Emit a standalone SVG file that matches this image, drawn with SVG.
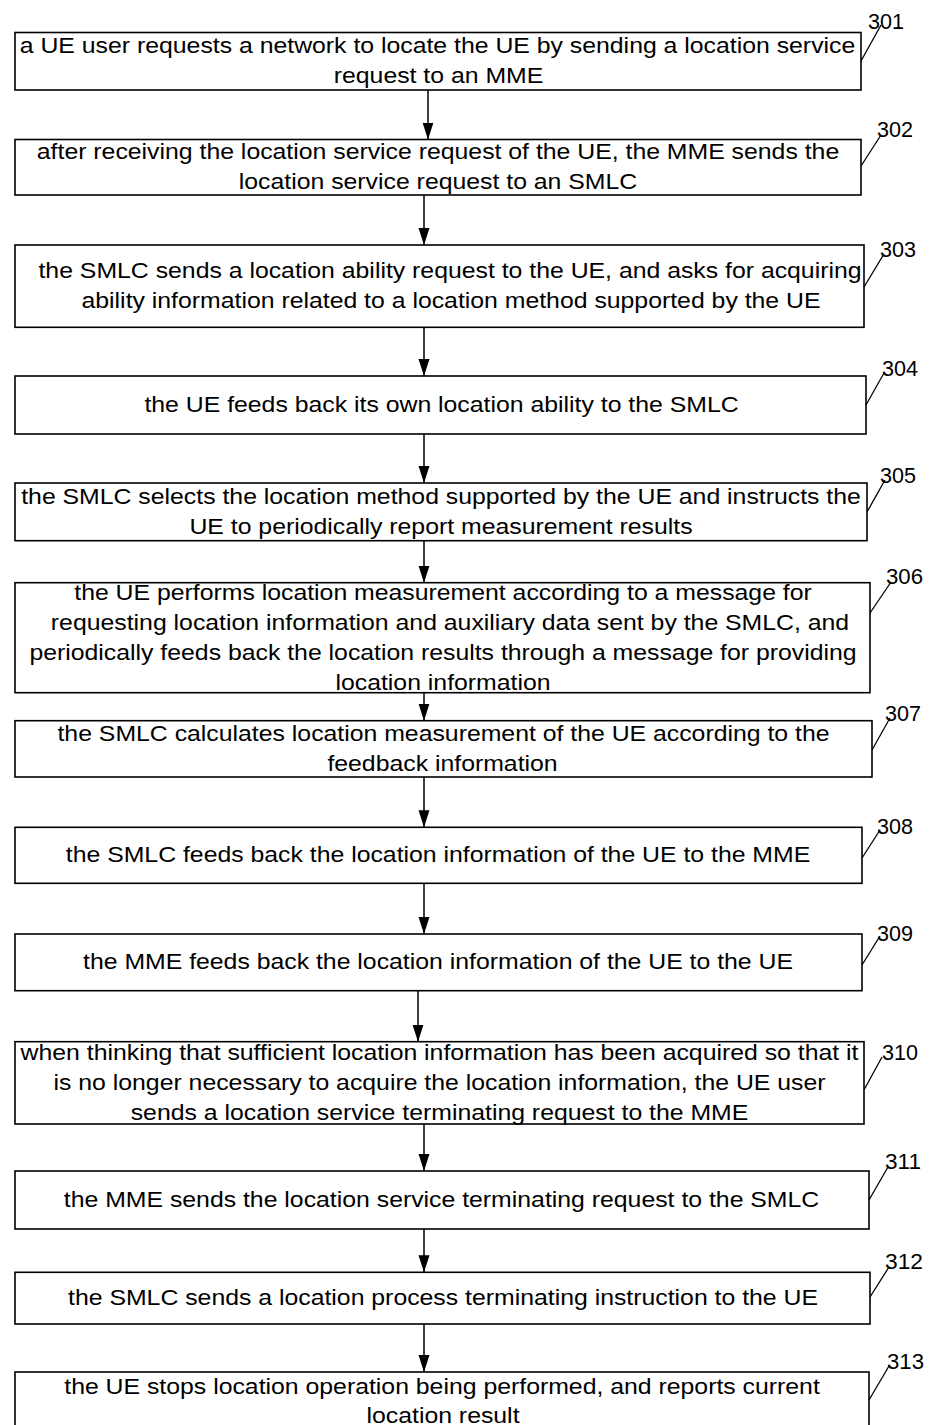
<svg xmlns="http://www.w3.org/2000/svg" width="930" height="1425" viewBox="0 0 930 1425">
<defs>
<style>
.box{fill:#fff;stroke:#000;stroke-width:1.6}
.t{font-family:"Liberation Sans",Arial,sans-serif;font-size:22px;fill:#000;text-anchor:middle}
.lb{font-family:"Liberation Sans",Arial,sans-serif;font-size:22px;fill:#000}
.ld{stroke:#000;stroke-width:1.3;fill:none}
.c{stroke:#000;stroke-width:1.5;fill:none;marker-end:url(#ah)}
</style>
<marker id="ah" markerUnits="userSpaceOnUse" markerWidth="18" markerHeight="12" refX="17" refY="6" orient="auto"><path d="M0,0.5 L17,6 L0,11.5 z" fill="#000"/></marker>
</defs>
<rect width="930" height="1425" fill="#fff"/>
<g id="connectors">
<line class="c" x1="428" y1="90" x2="428" y2="139.5"/>
<line class="c" x1="424" y1="195" x2="424" y2="245"/>
<line class="c" x1="424" y1="327.3" x2="424" y2="376"/>
<line class="c" x1="424" y1="434" x2="424" y2="483"/>
<line class="c" x1="424" y1="540.7" x2="424" y2="582.7"/>
<line class="c" x1="424" y1="692.7" x2="424" y2="720.7"/>
<line class="c" x1="424" y1="777" x2="424" y2="827.3"/>
<line class="c" x1="424" y1="883.3" x2="424" y2="934"/>
<line class="c" x1="418" y1="990.7" x2="418" y2="1041.7"/>
<line class="c" x1="424" y1="1124" x2="424" y2="1171"/>
<line class="c" x1="424" y1="1229" x2="424" y2="1272.3"/>
<line class="c" x1="424" y1="1324" x2="424" y2="1372"/>
</g>
<g id="n301">
<rect class="box" x="15" y="32.5" width="846" height="57.5"/>
<text class="t" transform="translate(437.5 53.3) scale(1.128 1)">a UE user requests a network to locate the UE by sending a location service</text>
<text class="t" transform="translate(438.5 83.3) scale(1.128 1)">request to an MME</text>
<line class="ld" x1="861" y1="61" x2="881" y2="25"/>
<text class="lb" x="868" y="29" textLength="36" lengthAdjust="spacingAndGlyphs">301</text>
</g>
<g id="n302">
<rect class="box" x="15" y="139.5" width="846" height="55.5"/>
<text class="t" transform="translate(438 159.3) scale(1.128 1)">after receiving the location service request of the UE, the MME sends the</text>
<text class="t" transform="translate(438 189.3) scale(1.128 1)">location service request to an SMLC</text>
<line class="ld" x1="861" y1="166" x2="881" y2="135"/>
<text class="lb" x="877" y="137" textLength="36" lengthAdjust="spacingAndGlyphs">302</text>
</g>
<g id="n303">
<rect class="box" x="15" y="245" width="849" height="82.3"/>
<text class="t" transform="translate(450 278.1) scale(1.128 1)">the SMLC sends a location ability request to the UE, and asks for acquiring</text>
<text class="t" transform="translate(451 308.1) scale(1.128 1)">ability information related to a location method supported by the UE</text>
<line class="ld" x1="864" y1="287" x2="884" y2="254"/>
<text class="lb" x="880" y="257" textLength="36" lengthAdjust="spacingAndGlyphs">303</text>
</g>
<g id="n304">
<rect class="box" x="15" y="376" width="851" height="58"/>
<text class="t" transform="translate(441.5 412) scale(1.128 1)">the UE feeds back its own location ability to the SMLC</text>
<line class="ld" x1="866" y1="405" x2="884" y2="373"/>
<text class="lb" x="882" y="376" textLength="36" lengthAdjust="spacingAndGlyphs">304</text>
</g>
<g id="n305">
<rect class="box" x="15" y="483" width="852" height="57.7"/>
<text class="t" transform="translate(441 503.8) scale(1.128 1)">the SMLC selects the location method supported by the UE and instructs the</text>
<text class="t" transform="translate(441 533.8) scale(1.128 1)">UE to periodically report measurement results</text>
<line class="ld" x1="867" y1="512" x2="885" y2="480"/>
<text class="lb" x="880" y="483" textLength="36" lengthAdjust="spacingAndGlyphs">305</text>
</g>
<g id="n306">
<rect class="box" x="15" y="582.7" width="855" height="110"/>
<text class="t" transform="translate(443 599.7) scale(1.128 1)">the UE performs location measurement according to a message for</text>
<text class="t" transform="translate(450 629.7) scale(1.128 1)">requesting location information and auxiliary data sent by the SMLC, and</text>
<text class="t" transform="translate(443 659.7) scale(1.128 1)">periodically feeds back the location results through a message for providing</text>
<text class="t" transform="translate(443 689.7) scale(1.128 1)">location information</text>
<line class="ld" x1="870" y1="613" x2="891" y2="582"/>
<text class="lb" x="886" y="584" textLength="37" lengthAdjust="spacingAndGlyphs">306</text>
</g>
<g id="n307">
<rect class="box" x="15" y="720.7" width="857" height="56.3"/>
<text class="t" transform="translate(443.5 740.8) scale(1.128 1)">the SMLC calculates location measurement of the UE according to the</text>
<text class="t" transform="translate(442.5 770.8) scale(1.128 1)">feedback information</text>
<line class="ld" x1="872" y1="750" x2="890" y2="718"/>
<text class="lb" x="885" y="721" textLength="36" lengthAdjust="spacingAndGlyphs">307</text>
</g>
<g id="n308">
<rect class="box" x="15" y="827.3" width="847" height="56"/>
<text class="t" transform="translate(438 862.3) scale(1.128 1)">the SMLC feeds back the location information of the UE to the MME</text>
<line class="ld" x1="862" y1="858" x2="880" y2="830"/>
<text class="lb" x="877" y="834" textLength="36" lengthAdjust="spacingAndGlyphs">308</text>
</g>
<g id="n309">
<rect class="box" x="15" y="934" width="847" height="56.7"/>
<text class="t" transform="translate(438 969.3) scale(1.128 1)">the MME feeds back the location information of the UE to the UE</text>
<line class="ld" x1="862" y1="965" x2="880" y2="936"/>
<text class="lb" x="877" y="941" textLength="36" lengthAdjust="spacingAndGlyphs">309</text>
</g>
<g id="n310">
<rect class="box" x="15" y="1041.7" width="849" height="82.3"/>
<text class="t" transform="translate(439.5 1059.8) scale(1.128 1)">when thinking that sufficient location information has been acquired so that it</text>
<text class="t" transform="translate(439.5 1089.8) scale(1.128 1)">is no longer necessary to acquire the location information, the UE user</text>
<text class="t" transform="translate(439.5 1119.8) scale(1.128 1)">sends a location service terminating request to the MME</text>
<line class="ld" x1="864" y1="1090" x2="882" y2="1057"/>
<text class="lb" x="882" y="1060" textLength="36" lengthAdjust="spacingAndGlyphs">310</text>
</g>
<g id="n311">
<rect class="box" x="15" y="1171" width="854" height="58"/>
<text class="t" transform="translate(441.5 1207) scale(1.128 1)">the MME sends the location service terminating request to the SMLC</text>
<line class="ld" x1="869" y1="1200" x2="888" y2="1167"/>
<text class="lb" x="885" y="1169" textLength="36" lengthAdjust="spacingAndGlyphs">311</text>
</g>
<g id="n312">
<rect class="box" x="15" y="1272.3" width="855" height="51.7"/>
<text class="t" transform="translate(443 1305) scale(1.128 1)">the SMLC sends a location process terminating instruction to the UE</text>
<line class="ld" x1="870" y1="1297" x2="889" y2="1267"/>
<text class="lb" x="885" y="1269" textLength="38" lengthAdjust="spacingAndGlyphs">312</text>
</g>
<g id="n313">
<rect class="box" x="15" y="1372" width="854" height="62"/>
<text class="t" transform="translate(442 1393.5) scale(1.128 1)">the UE stops location operation being performed, and reports current</text>
<text class="t" transform="translate(443 1422.5) scale(1.128 1)">location result</text>
<line class="ld" x1="869" y1="1400" x2="889" y2="1366"/>
<text class="lb" x="887" y="1369" textLength="37" lengthAdjust="spacingAndGlyphs">313</text>
</g>
</svg>
